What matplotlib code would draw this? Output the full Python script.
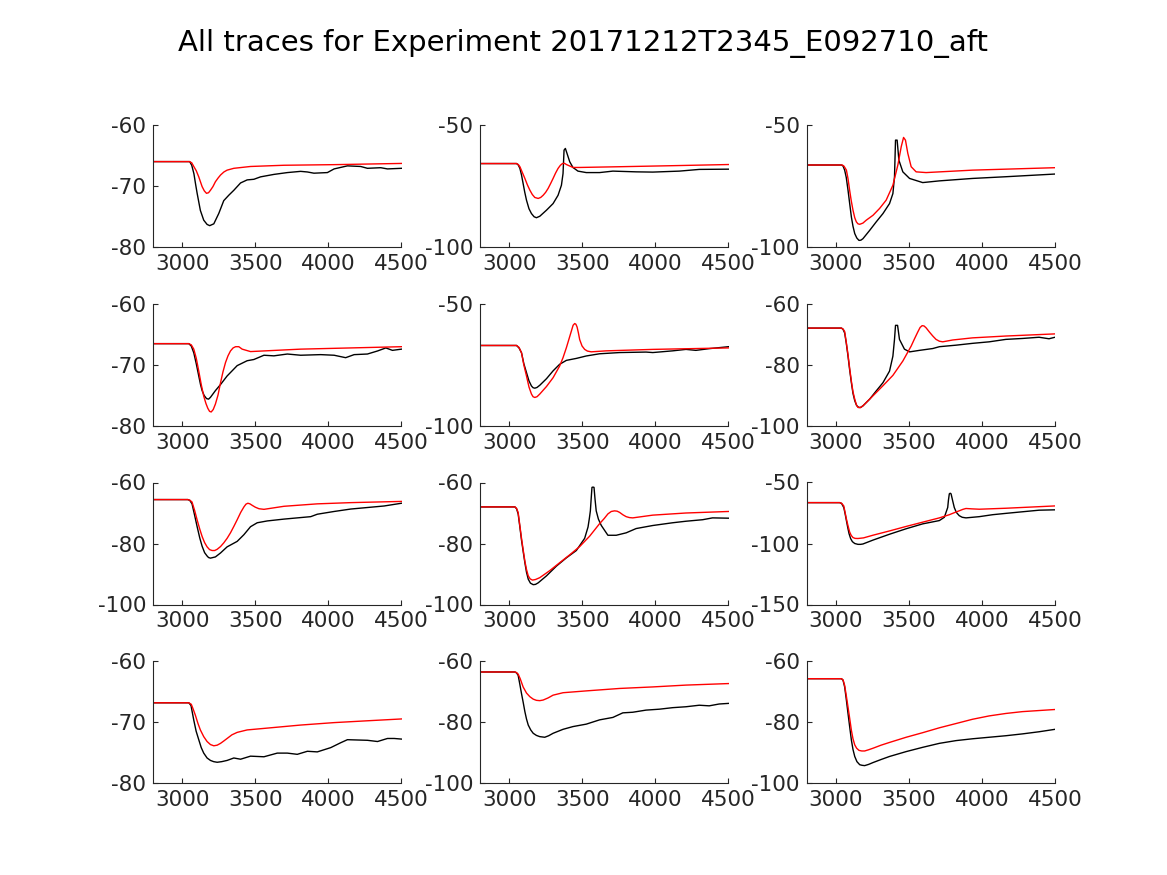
import matplotlib
matplotlib.use("Agg")
import matplotlib.pyplot as plt

plt.rcParams["axes.unicode_minus"] = False

title = "All traces for Experiment 20171212T2345_E092710_aft"
x_ticks = [3000, 3500, 4000, 4500]
x_range = (2800, 4500)

# y limits and ticks per panel (row by row)
y_limits = [(-80, -60), (-100, -50), (-100, -50),
            (-80, -60), (-100, -50), (-100, -60),
            (-100, -60), (-100, -60), (-150, -50),
            (-80, -60), (-100, -60), (-100, -60)]
y_ticks = [[-80, -70, -60], [-100, -50], [-100, -50],
           [-80, -70, -60], [-100, -50], [-100, -80, -60],
           [-100, -80, -60], [-100, -80, -60], [-150, -100, -50],
           [-80, -70, -60], [-100, -80, -60], [-100, -80, -60]]

# measured traces (black)
meas_x = [
    [2800, 3051, 3065, 3080, 3092, 3102, 3124, 3147, 3170, 3188, 3216, 3250, 3284, 3319, 3353, 3399, 3444, 3490, 3536, 3627, 3719, 3810, 3856, 3901, 3993, 4039, 4130, 4221, 4267, 4358, 4404, 4500],
    [2800, 3050, 3062, 3073, 3084, 3095, 3106, 3118, 3135, 3152, 3170, 3186, 3209, 3255, 3300, 3334, 3357, 3368, 3375, 3384, 3395, 3414, 3436, 3470, 3527, 3618, 3709, 3868, 3982, 4164, 4300, 4500],
    [2800, 3039, 3050, 3061, 3072, 3084, 3095, 3107, 3118, 3130, 3144, 3159, 3172, 3186, 3232, 3277, 3323, 3368, 3391, 3402, 3409, 3420, 3432, 3459, 3505, 3595, 3709, 3936, 4164, 4500],
    [2800, 3045, 3062, 3079, 3096, 3113, 3125, 3136, 3150, 3166, 3180, 3193, 3227, 3262, 3307, 3376, 3444, 3490, 3559, 3627, 3719, 3810, 3947, 4039, 4118, 4176, 4267, 4336, 4393, 4438, 4500],
    [2800, 3050, 3067, 3084, 3100, 3118, 3135, 3152, 3163, 3175, 3190, 3209, 3255, 3300, 3345, 3391, 3459, 3527, 3618, 3755, 3936, 3982, 4118, 4209, 4277, 4368, 4500],
    [2800, 3039, 3050, 3061, 3072, 3084, 3095, 3107, 3118, 3130, 3143, 3157, 3170, 3186, 3232, 3277, 3323, 3368, 3391, 3402, 3409, 3423, 3436, 3470, 3505, 3573, 3664, 3709, 3823, 3936, 4050, 4164, 4277, 4391, 4459, 4500],
    [2800, 3038, 3052, 3067, 3085, 3102, 3120, 3136, 3153, 3170, 3180, 3193, 3227, 3262, 3307, 3376, 3422, 3467, 3513, 3582, 3696, 3810, 3879, 3924, 4039, 4153, 4267, 4381, 4500],
    [2800, 3039, 3050, 3061, 3072, 3084, 3096, 3107, 3118, 3130, 3145, 3164, 3180, 3198, 3255, 3323, 3391, 3459, 3516, 3539, 3548, 3555, 3561, 3566, 3573, 3580, 3587, 3595, 3610, 3630, 3675, 3732, 3800, 3868, 3982, 4118, 4209, 4323, 4391, 4500],
    [2800, 3027, 3040, 3055, 3064, 3073, 3082, 3091, 3102, 3114, 3130, 3152, 3170, 3186, 3255, 3368, 3482, 3595, 3709, 3743, 3766, 3771, 3777, 3783, 3789, 3800, 3811, 3825, 3845, 3865, 3891, 3982, 4073, 4164, 4277, 4391, 4500],
    [2800, 3045, 3060, 3079, 3095, 3113, 3130, 3147, 3170, 3193, 3215, 3239, 3270, 3307, 3353, 3399, 3467, 3559, 3650, 3719, 3787, 3856, 3924, 4016, 4084, 4130, 4267, 4336, 4404, 4450, 4500],
    [2800, 3039, 3050, 3061, 3072, 3084, 3096, 3107, 3118, 3130, 3147, 3164, 3186, 3209, 3243, 3270, 3300, 3368, 3436, 3527, 3618, 3709, 3777, 3845, 3936, 4027, 4118, 4209, 4300, 4368, 4436, 4500],
    [2800, 3039, 3050, 3061, 3072, 3084, 3096, 3107, 3118, 3130, 3145, 3164, 3180, 3198, 3225, 3255, 3310, 3368, 3482, 3595, 3709, 3823, 3936, 4050, 4164, 4277, 4391, 4500],
]
meas_y = [
    [-66.0, -66.0, -66.6, -68.0, -69.8, -71.2, -74.0, -75.6, -76.3, -76.5, -76.2, -74.5, -72.4, -71.5, -70.7, -69.5, -69.0, -68.9, -68.5, -68.1, -67.8, -67.6, -67.7, -67.9, -67.8, -67.2, -66.7, -66.8, -67.1, -67.0, -67.2, -67.1],
    [-65.8, -65.8, -66.4, -67.8, -70.5, -74.0, -77.5, -80.8, -84.3, -86.3, -87.6, -88.0, -87.4, -84.9, -82.2, -78.8, -74.7, -69.9, -60.3, -59.6, -61.6, -65.1, -67.4, -68.9, -69.5, -69.5, -68.9, -69.2, -69.3, -68.9, -68.2, -68.1],
    [-66.4, -66.4, -66.8, -68.5, -71.5, -76.7, -82.0, -87.7, -91.5, -94.5, -96.3, -97.3, -97.2, -96.6, -93.2, -89.7, -86.3, -82.2, -78.1, -71.2, -56.2, -56.2, -64.4, -69.2, -71.9, -73.6, -72.9, -71.9, -71.2, -70.1],
    [-66.5, -66.5, -66.9, -68.0, -69.8, -71.8, -73.2, -74.2, -75.0, -75.5, -75.6, -75.3, -74.2, -73.2, -71.8, -70.1, -69.3, -69.1, -68.4, -68.5, -68.2, -68.4, -68.3, -68.4, -68.8, -68.3, -68.2, -67.7, -67.2, -67.6, -67.4],
    [-67.0, -67.0, -68.0, -70.0, -74.5, -78.1, -81.5, -83.6, -84.3, -84.5, -84.2, -83.3, -80.6, -77.4, -74.7, -73.1, -72.3, -71.3, -70.4, -69.9, -69.7, -69.9, -69.2, -68.6, -69.0, -68.3, -67.5],
    [-67.9, -67.9, -68.3, -69.5, -72.8, -77.1, -81.5, -85.8, -89.3, -91.7, -93.3, -93.9, -93.9, -93.4, -91.2, -88.5, -85.8, -82.0, -77.1, -71.6, -67.0, -67.0, -71.6, -74.8, -75.7, -75.2, -74.6, -74.0, -73.5, -72.9, -72.4, -71.6, -71.3, -70.9, -71.4, -70.9],
    [-65.6, -65.6, -65.9, -67.0, -70.8, -74.5, -78.2, -80.9, -83.0, -84.1, -84.6, -84.8, -84.4, -83.1, -81.1, -79.3, -77.1, -74.5, -73.2, -72.6, -72.0, -71.5, -71.2, -70.4, -69.5, -68.7, -68.2, -67.7, -66.8],
    [-68.0, -68.0, -68.6, -70.3, -74.3, -78.9, -82.8, -86.3, -89.4, -91.7, -93.0, -93.5, -93.4, -92.9, -90.6, -87.4, -84.7, -82.3, -78.3, -74.6, -71.8, -69.3, -65.0, -61.6, -61.5, -61.6, -65.5, -69.3, -72.0, -74.1, -77.3, -77.3, -76.5, -75.1, -74.1, -73.2, -72.7, -72.2, -71.6, -71.7],
    [-66.5, -66.5, -67.2, -70.5, -75.5, -81.2, -86.8, -91.9, -96.0, -98.5, -100.0, -100.7, -100.7, -100.4, -97.2, -92.4, -87.9, -83.9, -81.2, -78.5, -70.5, -64.5, -59.3, -58.8, -59.3, -65.0, -70.5, -74.5, -77.2, -78.5, -79.0, -78.0, -76.4, -75.3, -74.0, -72.7, -72.4],
    [-66.85, -66.85, -67.3, -69.7, -71.5, -72.9, -74.2, -75.1, -75.9, -76.3, -76.5, -76.6, -76.5, -76.3, -75.9, -76.1, -75.6, -75.7, -75.1, -75.1, -75.3, -74.8, -74.9, -74.2, -73.4, -72.9, -73.0, -73.2, -72.7, -72.7, -72.8],
    [-63.6, -63.6, -63.9, -64.7, -67.5, -70.7, -73.7, -76.6, -79.0, -81.0, -82.6, -83.7, -84.4, -84.8, -85.0, -84.5, -83.7, -82.4, -81.5, -80.7, -79.3, -78.5, -77.0, -76.8, -76.1, -75.8, -75.3, -75.0, -74.5, -74.7, -74.1, -73.9],
    [-65.8, -65.8, -66.3, -68.5, -72.5, -77.2, -81.8, -85.9, -89.0, -91.3, -93.0, -94.0, -94.2, -94.3, -93.9, -93.3, -92.3, -91.3, -89.7, -88.3, -87.0, -86.1, -85.5, -85.0, -84.5, -83.9, -83.2, -82.4],
]

# model traces (red)
model_x = [
    [2800, 3050, 3065, 3079, 3096, 3113, 3136, 3151, 3166, 3180, 3193, 3210, 3227, 3245, 3262, 3285, 3307, 3353, 3467, 3696, 4039, 4500],
    [2800, 3050, 3062, 3073, 3090, 3107, 3124, 3141, 3158, 3175, 3198, 3215, 3232, 3249, 3266, 3283, 3300, 3317, 3334, 3350, 3364, 3378, 3391, 3436, 3482, 3755, 4095, 4500],
    [2800, 3045, 3057, 3073, 3084, 3095, 3106, 3118, 3130, 3141, 3152, 3164, 3186, 3209, 3255, 3300, 3345, 3391, 3425, 3448, 3464, 3477, 3493, 3516, 3550, 3618, 3936, 4500],
    [2800, 3045, 3062, 3079, 3096, 3113, 3130, 3147, 3162, 3175, 3187, 3198, 3212, 3227, 3245, 3262, 3279, 3296, 3313, 3330, 3348, 3365, 3387, 3410, 3467, 3810, 4500],
    [2800, 3050, 3067, 3084, 3100, 3118, 3135, 3152, 3163, 3175, 3190, 3209, 3255, 3300, 3345, 3368, 3391, 3408, 3425, 3437, 3448, 3456, 3464, 3473, 3482, 3498, 3516, 3535, 3561, 3664, 3982, 4500],
    [2800, 3039, 3050, 3061, 3072, 3084, 3095, 3107, 3118, 3130, 3141, 3152, 3168, 3186, 3255, 3323, 3391, 3459, 3516, 3538, 3561, 3577, 3591, 3604, 3618, 3641, 3664, 3686, 3709, 3732, 3755, 3800, 3936, 4164, 4500],
    [2800, 3038, 3052, 3067, 3085, 3102, 3120, 3136, 3153, 3170, 3187, 3204, 3222, 3239, 3262, 3284, 3307, 3330, 3353, 3376, 3400, 3422, 3436, 3449, 3463, 3479, 3500, 3525, 3559, 3696, 3924, 4153, 4500],
    [2800, 3039, 3050, 3061, 3072, 3084, 3096, 3107, 3118, 3130, 3143, 3159, 3180, 3209, 3277, 3345, 3414, 3482, 3550, 3618, 3650, 3675, 3698, 3720, 3738, 3755, 3778, 3800, 3822, 3845, 3982, 4209, 4500],
    [2800, 3027, 3040, 3055, 3064, 3073, 3084, 3095, 3106, 3118, 3132, 3152, 3190, 3255, 3368, 3482, 3595, 3709, 3777, 3810, 3845, 3870, 3891, 3930, 3982, 4164, 4500],
    [2800, 3045, 3062, 3075, 3090, 3107, 3124, 3147, 3170, 3193, 3216, 3239, 3262, 3285, 3307, 3340, 3376, 3410, 3444, 3582, 3810, 4039, 4267, 4500],
    [2800, 3039, 3050, 3061, 3075, 3095, 3118, 3141, 3164, 3186, 3209, 3232, 3266, 3300, 3334, 3368, 3527, 3755, 3982, 4209, 4500],
    [2800, 3039, 3050, 3061, 3072, 3084, 3096, 3107, 3118, 3130, 3143, 3159, 3178, 3198, 3225, 3255, 3310, 3368, 3482, 3595, 3709, 3823, 3936, 4050, 4164, 4277, 4500],
]
model_y = [
    [-66.0, -66.0, -66.2, -66.8, -67.5, -68.5, -70.1, -70.8, -71.2, -71.1, -70.7, -70.1, -69.3, -68.7, -68.2, -67.7, -67.4, -67.1, -66.8, -66.6, -66.5, -66.3],
    [-65.8, -65.8, -66.2, -67.1, -69.5, -71.9, -74.5, -76.7, -78.5, -79.7, -80.1, -79.7, -78.8, -77.6, -76.0, -74.0, -71.9, -69.7, -67.8, -66.5, -65.8, -65.7, -66.2, -67.4, -67.4, -67.1, -66.7, -66.2],
    [-66.4, -66.4, -66.9, -68.5, -72.0, -76.7, -81.0, -84.9, -88.0, -89.7, -90.5, -90.7, -90.2, -89.0, -87.0, -84.2, -80.8, -74.7, -66.4, -58.9, -55.1, -56.2, -61.6, -67.1, -69.2, -69.5, -68.5, -67.5],
    [-66.5, -66.5, -66.7, -67.4, -68.9, -71.0, -73.2, -75.1, -76.3, -77.1, -77.6, -77.7, -77.3, -76.4, -74.9, -72.9, -71.1, -69.6, -68.5, -67.7, -67.2, -67.0, -67.0, -67.4, -67.8, -67.4, -67.0],
    [-67.0, -67.0, -67.8, -70.0, -75.0, -79.5, -84.0, -86.9, -88.0, -88.3, -88.0, -86.9, -83.8, -80.2, -75.4, -72.0, -67.9, -64.5, -61.1, -58.7, -58.0, -58.3, -59.4, -61.8, -64.6, -67.2, -68.6, -69.3, -69.6, -69.2, -68.6, -68.0],
    [-67.9, -67.9, -68.2, -69.0, -72.5, -76.6, -81.0, -85.3, -88.8, -91.2, -93.0, -93.9, -94.0, -93.4, -90.1, -86.8, -83.4, -78.7, -73.8, -71.5, -69.2, -67.7, -67.1, -67.2, -67.8, -69.2, -70.5, -71.6, -72.2, -72.4, -72.2, -71.8, -71.1, -70.5, -69.8],
    [-65.6, -65.6, -65.8, -66.4, -69.2, -72.3, -75.3, -77.7, -79.7, -81.1, -82.0, -82.3, -82.3, -81.9, -81.0, -79.8, -78.3, -76.5, -74.4, -72.2, -69.8, -68.0, -67.1, -66.8, -67.0, -67.5, -68.1, -68.6, -68.8, -67.8, -67.0, -66.6, -66.2],
    [-68.0, -68.0, -68.5, -69.8, -73.9, -78.3, -82.3, -85.8, -88.5, -90.6, -91.6, -92.0, -91.8, -91.2, -88.9, -86.3, -83.7, -81.0, -77.6, -73.5, -71.8, -70.3, -69.5, -69.3, -69.4, -69.8, -70.6, -71.2, -71.5, -71.6, -70.7, -70.0, -69.5],
    [-66.5, -66.5, -67.0, -69.2, -74.5, -79.9, -85.5, -90.5, -93.4, -95.1, -95.8, -95.9, -95.4, -93.2, -89.7, -86.0, -82.5, -79.0, -76.4, -74.8, -73.2, -72.0, -71.3, -71.6, -71.9, -71.1, -69.2],
    [-66.85, -66.85, -67.1, -67.9, -68.9, -70.2, -71.3, -72.4, -73.2, -73.7, -73.9, -73.8, -73.5, -73.1, -72.7, -72.1, -71.7, -71.5, -71.3, -71.0, -70.5, -70.1, -69.8, -69.5],
    [-63.6, -63.6, -63.8, -64.3, -65.8, -68.5, -70.5, -71.7, -72.5, -72.9, -73.0, -72.8, -72.1, -71.2, -70.8, -70.4, -69.8, -69.0, -68.5, -67.9, -67.4],
    [-65.8, -65.8, -66.2, -68.0, -71.3, -75.1, -79.0, -82.7, -85.5, -87.5, -88.6, -89.3, -89.5, -89.5, -89.1, -88.6, -87.6, -86.7, -85.0, -83.5, -81.9, -80.5, -79.1, -78.0, -77.2, -76.6, -75.9],
]

W, H = 1167, 875
col_left = [153, 480, 806.5]
row_top = [125, 304, 482.5, 661]
ax_w, ax_h = 248.5, 122
text_color = "#262626"

fig = plt.figure(figsize=(W / 100, H / 100), dpi=100)
fig.text(0.5, 1 - 43 / H, title, ha="center", va="center", fontsize=21, color="black")

for i in range(12):
    r, c = divmod(i, 3)
    ax = fig.add_axes([col_left[c] / W, 1 - (row_top[r] + ax_h) / H, ax_w / W, ax_h / H])
    ax.plot(meas_x[i], meas_y[i], color="black", lw=1.0)
    ax.plot(model_x[i], model_y[i], color="red", lw=1.0)
    ax.set_xlim(*x_range)
    ax.set_ylim(*y_limits[i])
    ax.set_xticks(x_ticks)
    ax.set_yticks(y_ticks[i])
    for side in ("top", "right"):
        ax.spines[side].set_visible(False)
    for side in ("left", "bottom"):
        ax.spines[side].set_color(text_color)
        ax.spines[side].set_linewidth(0.8)
    ax.tick_params(direction="in", length=3.5, width=0.8, color=text_color,
                   labelcolor=text_color, labelsize=15.5, pad=5)

fig.savefig("out.png", dpi=100)
